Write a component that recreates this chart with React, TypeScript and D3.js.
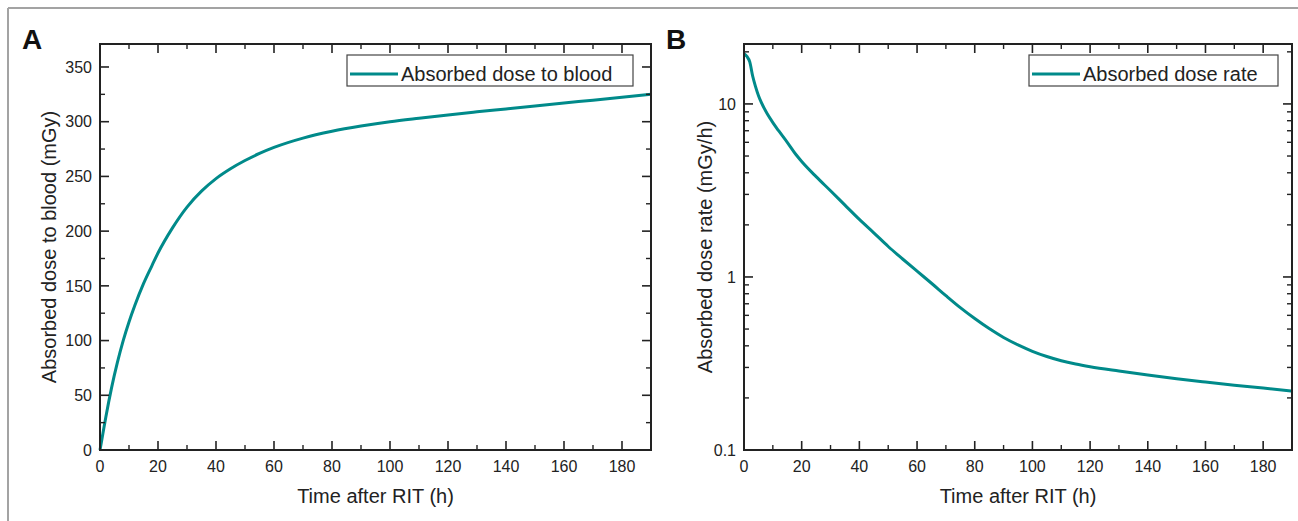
import React from "react";
import * as d3 from "d3";

const timeA = [0, 1, 2, 3, 4, 6, 8, 10, 12, 15, 18, 20, 25, 30, 35, 40, 45, 50, 55, 60, 70, 80, 90, 100, 110, 120, 130, 140, 150, 160, 170, 180, 190];
const doseA = [0, 15, 30, 44, 57, 80, 100, 117, 132, 152, 169, 180, 203, 222, 236.5, 248, 257, 264.5, 271, 276.5, 285, 291.2, 296, 300, 303.2, 306.2, 309, 311.7, 314.4, 317, 319.7, 322.3, 325];

const timeB = [0, 1, 2, 3, 4, 5, 6, 8, 10, 12, 15, 18, 20, 25, 30, 35, 40, 45, 50, 55, 60, 65, 70, 75, 80, 85, 90, 95, 100, 105, 110, 115, 120, 130, 140, 150, 160, 170, 180, 190];
const rateB = [19.5, 18.8, 17.5, 14.5, 12.6, 11.2, 10.2, 8.8, 7.8, 7.0, 6.0, 5.1, 4.65, 3.8, 3.15, 2.6, 2.15, 1.8, 1.5, 1.27, 1.08, 0.92, 0.78, 0.665, 0.575, 0.503, 0.447, 0.405, 0.372, 0.347, 0.328, 0.314, 0.303, 0.286, 0.271, 0.258, 0.247, 0.237, 0.228, 0.219];

const xTicks = [0, 20, 40, 60, 80, 100, 120, 140, 160, 180];
const xMinor = [10, 30, 50, 70, 90, 110, 130, 150, 170];
const yTicksA = [0, 50, 100, 150, 200, 250, 300, 350];
const yMinorA = [25, 75, 125, 175, 225, 275, 325];
const yTicksB = [0.1, 1, 10];
const yMinorB = [0.2, 0.3, 0.4, 0.5, 0.6, 0.7, 0.8, 0.9, 2, 3, 4, 5, 6, 7, 8, 9, 20];

const FONT = "'Liberation Sans', Arial, Helvetica, sans-serif";
const TEAL = "#008a8a";
const AX = "#222";

type PanelProps = {
  letter: string;
  left: number; right: number; top: number; bottom: number;
  x: d3.ScaleLinear<number, number>;
  y: any;
  yTicks: number[]; yMinor: number[];
  yFmt: (v: number) => string;
  xs: number[]; ys: number[];
  yTitle: string; yTitleX: number;
  legend: string; legX: number; legW: number;
};

function Panel(p: PanelProps) {
  const line = d3.line<number>()
    .x((_, i) => p.x(p.xs[i]))
    .y((_, i) => p.y(p.ys[i]))
    .curve(d3.curveMonotoneX);
  const M = 9, m = 5;
  const cx = (p.left + p.right) / 2;
  const cy = (p.top + p.bottom) / 2;
  return (
    <g>
      <text x={p.left - 78} y={49} fontSize={28} fontWeight="bold" fontFamily={FONT} fill="#111">{p.letter}</text>
      <path d={line(p.xs) || ""} fill="none" stroke={TEAL} strokeWidth={3} />
      {xTicks.map(t => (
        <g key={"x" + t}>
          <line x1={p.x(t)} x2={p.x(t)} y1={p.bottom} y2={p.bottom - M} stroke={AX} strokeWidth={1.6} />
          <line x1={p.x(t)} x2={p.x(t)} y1={p.top} y2={p.top + M} stroke={AX} strokeWidth={1.6} />
          <text x={p.x(t)} y={p.bottom + 22} textAnchor="middle" fontSize={16} fontFamily={FONT} fill="#222">{t}</text>
        </g>
      ))}
      {xMinor.map(t => (
        <g key={"xm" + t}>
          <line x1={p.x(t)} x2={p.x(t)} y1={p.bottom} y2={p.bottom - m} stroke={AX} strokeWidth={1.4} />
          <line x1={p.x(t)} x2={p.x(t)} y1={p.top} y2={p.top + m} stroke={AX} strokeWidth={1.4} />
        </g>
      ))}
      {p.yTicks.map(t => (
        <g key={"y" + t}>
          <line x1={p.left} x2={p.left + M} y1={p.y(t)} y2={p.y(t)} stroke={AX} strokeWidth={1.6} />
          <line x1={p.right} x2={p.right - M} y1={p.y(t)} y2={p.y(t)} stroke={AX} strokeWidth={1.6} />
          <text x={p.left - 8} y={p.y(t)} dy="0.36em" textAnchor="end" fontSize={16} fontFamily={FONT} fill="#222">{p.yFmt(t)}</text>
        </g>
      ))}
      {p.yMinor.map(t => (
        <g key={"ym" + t}>
          <line x1={p.left} x2={p.left + m} y1={p.y(t)} y2={p.y(t)} stroke={AX} strokeWidth={1.4} />
          <line x1={p.right} x2={p.right - m} y1={p.y(t)} y2={p.y(t)} stroke={AX} strokeWidth={1.4} />
        </g>
      ))}
      <rect x={p.left} y={p.top} width={p.right - p.left} height={p.bottom - p.top} fill="none" stroke={AX} strokeWidth={2} />
      <text x={cx} y={503} textAnchor="middle" fontSize={20} fontFamily={FONT} fill="#222">Time after RIT (h)</text>
      <text transform={`translate(${p.yTitleX},${cy}) rotate(-90)`} textAnchor="middle" fontSize={20} fontFamily={FONT} fill="#222">{p.yTitle}</text>
      <rect x={p.legX} y={55} width={p.legW} height={31} fill="#fff" stroke="#444" strokeWidth={1.2} />
      <line x1={p.legX + 3} x2={p.legX + 51} y1={74} y2={74} stroke={TEAL} strokeWidth={3} />
      <text x={p.legX + 54} y={81} fontSize={20} fontFamily={FONT} fill="#222">{p.legend}</text>
    </g>
  );
}

export default function App() {
  const xA = d3.scaleLinear().domain([0, 190]).range([100, 651]);
  const yA = d3.scaleLinear().domain([0, 371]).range([450, 44]);
  const xB = d3.scaleLinear().domain([0, 190]).range([744, 1292]);
  const yB = d3.scaleLog().domain([0.1, 22.2]).range([450, 44]);
  return (
    <svg width={1298} height={521} style={{ position: "absolute", left: 0, top: 0, background: "#fff" }}>
      <rect x={0} y={0} width={1298} height={521} fill="#fff" />
      <line x1={8} x2={1298} y1={8} y2={8} stroke="#a3a3a3" strokeWidth={2} />
      <line x1={8} x2={8} y1={8} y2={521} stroke="#a3a3a3" strokeWidth={2} />
      <Panel letter="A" left={100} right={651} top={44} bottom={450} x={xA} y={yA}
        yTicks={yTicksA} yMinor={yMinorA} yFmt={v => String(v)}
        xs={timeA} ys={doseA} yTitle="Absorbed dose to blood (mGy)" yTitleX={56}
        legend="Absorbed dose to blood" legX={347} legW={286} />
      <Panel letter="B" left={744} right={1292} top={44} bottom={450} x={xB} y={yB}
        yTicks={yTicksB} yMinor={yMinorB} yFmt={v => String(v)}
        xs={timeB} ys={rateB} yTitle="Absorbed dose rate (mGy/h)" yTitleX={712}
        legend="Absorbed dose rate" legX={1029} legW={249} />
    </svg>
  );
}
